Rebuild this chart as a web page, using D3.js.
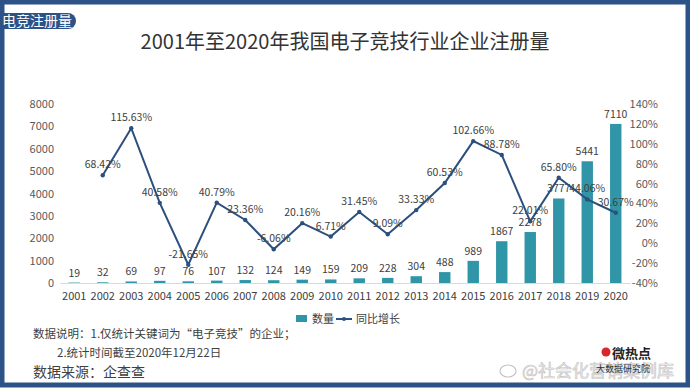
<!DOCTYPE html>
<html><head><meta charset="utf-8">
<script src="https://cdn.jsdelivr.net/npm/d3@7"></script>
<style>html,body{margin:0;padding:0;background:#fff;}svg{display:block;}</style>
</head><body>
<svg id="c" width="690" height="388"></svg>
<script>
const years = ["2001","2002","2003","2004","2005","2006","2007","2008","2009","2010","2011","2012","2013","2014","2015","2016","2017","2018","2019","2020"];
const counts = [19,32,69,97,76,107,132,124,149,159,209,228,304,488,989,1867,2278,3777,5441,7110];
const growth = [null,68.42,115.63,40.58,-21.65,40.79,23.36,-6.06,20.16,6.71,31.45,9.09,33.33,60.53,102.66,88.78,22.01,65.80,44.06,30.67];
const leftTicks = [0,1000,2000,3000,4000,5000,6000,7000,8000];
const rightTicks = [-40,-20,0,20,40,60,80,100,120,140];

const F = "'Noto Sans CJK SC','Noto Sans',sans-serif";
const svg = d3.select("#c");
const teal = "#3096a7", navy = "#2c4f7e", border = "#2d5287";

// frame
svg.append("rect").attr("x",2).attr("y",2).attr("width",686).attr("height",383)
  .attr("fill","#fff").attr("stroke",border).attr("stroke-width",5);

// tab label
svg.append("path").attr("d","M0,13 H68 A8,8 0 0 1 68,29 H0 Z").attr("fill",border);
svg.append("text").attr("x",2).attr("y",26).attr("font-family",F).attr("font-size",14)
  .attr("fill","#fff").text("电竞注册量");

// title
svg.append("text").attr("x",345).attr("y",49).attr("text-anchor","middle")
  .attr("font-family",F).attr("font-size",20).attr("fill","#333").text("2001年至2020年我国电子竞技行业企业注册量");

const x = d3.scaleBand().domain(years).range([60,630]).paddingInner(0.6).paddingOuter(0.3);
const yL = d3.scaleLinear().domain([0,8000]).range([283,104]);
const yR = d3.scaleLinear().domain([-40,140]).range([283,104]);

// left axis
const gL = svg.append("g").attr("transform","translate(60,0)")
  .call(d3.axisLeft(yL).tickValues(leftTicks).tickFormat(d3.format("d")).tickSize(0).tickPadding(6));
gL.select(".domain").remove();
gL.selectAll("text").attr("font-family",F).attr("font-size",11).attr("fill","#595959");

// right axis
const gR = svg.append("g").attr("transform","translate(630,0)")
  .call(d3.axisRight(yR).tickValues(rightTicks).tickFormat(d=>d+"%").tickSize(0).tickPadding(0));
gR.select(".domain").remove();
gR.selectAll("text").attr("font-family",F).attr("font-size",11).attr("fill","#595959")
  .attr("text-anchor","end").attr("x",28);

// bottom axis
const gB = svg.append("g").attr("transform","translate(0,283)")
  .call(d3.axisBottom(x).tickSize(0).tickPadding(9));
gB.select(".domain").attr("stroke","#d9d9d9");
gB.selectAll("text").attr("font-family",F).attr("font-size",11).attr("fill","#404040");

// bars
svg.append("g").selectAll("rect").data(counts).join("rect")
  .attr("x",(d,i)=>x(years[i])).attr("width",x.bandwidth())
  .attr("y",d=>yL(d)).attr("height",d=>yL(0)-yL(d)).attr("fill",teal);
svg.append("g").selectAll("text").data(counts).join("text")
  .attr("x",(d,i)=>x(years[i])+x.bandwidth()/2).attr("y",d=>yL(d)-6)
  .attr("text-anchor","middle").attr("font-family",F).attr("font-size",10.5).attr("fill","#404040")
  .text(d=>d);

// line
const pts = growth.map((g,i)=>({g,yr:years[i]})).filter(d=>d.g!==null);
const line = d3.line().x(d=>x(d.yr)+x.bandwidth()/2).y(d=>yR(d.g));
svg.append("path").datum(pts).attr("d",line).attr("fill","none").attr("stroke",navy).attr("stroke-width",2);
svg.append("g").selectAll("circle").data(pts).join("circle")
  .attr("cx",d=>x(d.yr)+x.bandwidth()/2).attr("cy",d=>yR(d.g)).attr("r",2.2).attr("fill",navy);
svg.append("g").selectAll("text").data(pts).join("text")
  .attr("x",d=>x(d.yr)+x.bandwidth()/2).attr("y",d=>yR(d.g)-7)
  .attr("text-anchor","middle").attr("font-family",F).attr("font-size",10.5).attr("fill","#404040")
  .text(d=>d.g.toFixed(2)+"%");

// legend
const lg = svg.append("g").attr("transform","translate(0,319)");
lg.append("rect").attr("x",296).attr("y",-4).attr("width",11).attr("height",7).attr("fill",teal);
lg.append("text").attr("x",312).attr("y",4).attr("font-family",F).attr("font-size",11).attr("fill","#404040").text("数量");
lg.append("line").attr("x1",336).attr("x2",352).attr("y1",0).attr("y2",0).attr("stroke",navy).attr("stroke-width",2);
lg.append("circle").attr("cx",344).attr("cy",0).attr("r",2).attr("fill",navy);
lg.append("text").attr("x",356).attr("y",4).attr("font-family",F).attr("font-size",11).attr("fill","#404040").text("同比增长");

// notes
svg.append("text").attr("x",33).attr("y",338).attr("font-family",F).attr("font-size",11.5).attr("fill","#404040")
  .text("数据说明：1.仅统计关键词为“电子竞技”的企业；");
svg.append("text").attr("x",57).attr("y",357).attr("font-family",F).attr("font-size",11.5).attr("fill","#404040")
  .text("2.统计时间截至2020年12月22日");
svg.append("text").attr("x",33).attr("y",377).attr("font-family",F).attr("font-size",14).attr("fill","#404040")
  .text("数据来源：企查查");

// watermark
svg.append("ellipse").attr("cx",508).attr("cy",371).attr("rx",8).attr("ry",6)
  .attr("fill","none").attr("stroke","#c4c4c4").attr("stroke-width",1.2);
svg.append("text").attr("x",612).attr("y",358).attr("font-family",F).attr("font-size",13).attr("font-weight","bold")
  .attr("fill","#222").text("微热点");
svg.append("circle").attr("cx",606).attr("cy",352).attr("r",4.5).attr("fill","#d9262b");
svg.append("text").attr("x",522).attr("y",377).attr("font-family",F).attr("font-size",17)
  .attr("fill","#eeeeee").attr("stroke","#c4c4c4").attr("stroke-width",0.6).text("@社会化营销案例库");
svg.append("text").attr("x",596).attr("y",372).attr("font-family",F).attr("font-size",9)
  .attr("fill","#333").text("大数据研究院");
</script>
</body></html>
